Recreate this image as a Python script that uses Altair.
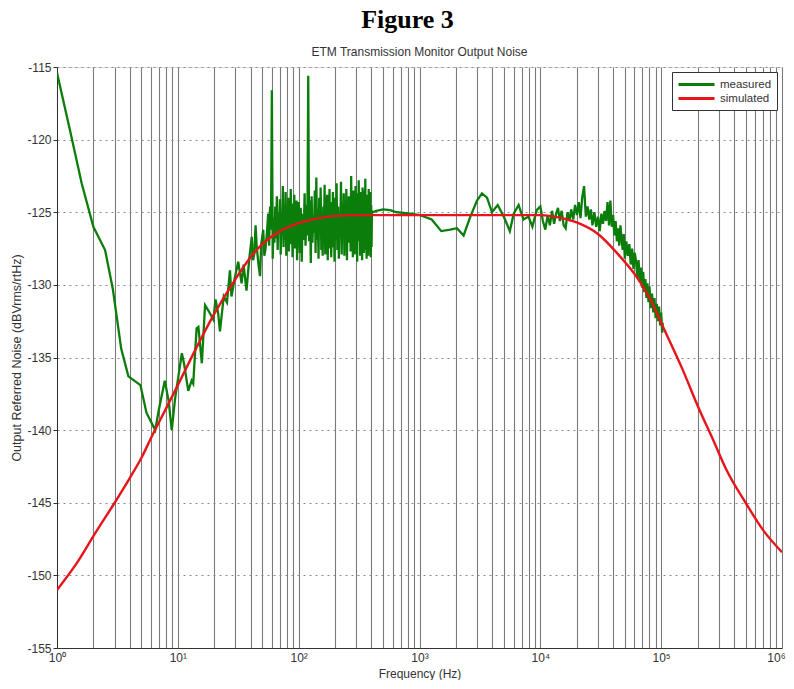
import altair as alt
import pandas as pd

# ---------------- data ----------------
meas_f = [1, 1.3, 1.6, 2.0, 2.5, 2.9, 3.4, 3.9, 4.9, 5.5, 6.5, 7.0, 7.8, 8.4, 8.9, 9.5,
          10.8, 11.3, 12.2, 13.0, 13.4, 14.3, 14.8, 15.8, 16.8, 18.0, 19.7, 20.5, 21.6, 22.3,
          24, 25.5, 27, 27.8, 29.5, 31.6, 33.7, 35, 37, 39, 40.9, 42, 43, 44, 45, 46.5, 47.9,
          49, 50.9, 52, 53, 54.5, 56, 57, 58, 59,
          60, 61, 62, 63, 64, 65, 66, 67, 68, 69, 70, 71, 72, 73, 74, 75, 76, 77, 78, 79,
          80, 81, 82, 83, 84, 85, 86, 87, 88, 89, 90, 91, 92, 93, 94, 95, 96, 97, 98, 99, 100,
          102, 104, 106, 108, 110, 112, 114, 116, 118, 120, 122, 124, 126, 128, 130, 132,
          134, 136, 138, 140, 142, 144, 146, 148, 150, 152, 154, 156, 158, 160, 162, 164,
          166, 168, 170, 172, 174, 176, 178, 180, 182, 184, 186, 188, 190, 192, 194, 196,
          198, 200, 203, 206, 209, 212, 215, 218, 221, 224, 227, 230, 233, 236, 239, 242,
          245, 248, 251, 254, 257, 260, 263, 266, 269, 272, 275, 278, 281, 284, 287, 290,
          293, 296, 299, 302, 305, 308, 311, 314, 317, 320, 323, 326, 329, 332, 335, 338,
          341, 344, 347, 350, 353, 356, 359, 362, 365, 368, 371, 374, 377, 380, 383, 386,
          389, 392, 395, 398, 401, 404, 407,
          440, 500, 570, 650, 740, 836, 1012, 1262, 1513, 1795, 2040, 2318, 2634, 2993,
          3290, 3620, 3980, 4440, 4980, 5590, 6020, 6610, 7260, 7980, 8600, 9320,
          10000, 10500, 11000, 11500, 12000, 12500, 13000, 13500, 14000, 14500, 15000, 15600,
          16200, 16800, 17400, 18000, 18700, 19400, 20100, 20800, 21500, 22200, 23000, 23800,
          24600, 25400, 26200, 27000, 28000, 29000, 30000, 31000, 32000, 33000, 34000, 35000,
          36000, 37000, 38000, 39000, 40000, 41000, 42000, 43000, 44000, 45000, 46000, 47000,
          48000, 49000, 50000, 51500, 53000, 54500, 56000, 57500, 59000, 60500, 62000, 63500,
          65000, 66500, 68000, 69500, 71000, 72500, 74000, 75500, 77000, 78500, 80000, 82000,
          84000, 86000, 88000, 90000, 92000, 94000, 96000, 98000, 100000, 102000, 103000]
meas_db = [-115.4, -119.6, -123.0, -126.0, -127.6, -130.3, -134.4, -136.3, -136.9, -138.8,
           -140.0, -138.5, -136.6, -138.0, -140.0, -137.8,
           -134.7, -135.5, -137.3, -136.6, -136.8, -133.0, -132.9, -135.4, -131.4, -131.8,
           -132.4, -131.0, -132.0, -133.2,
           -130.8, -131.2, -129.0, -130.8, -129.6, -128.4, -129.9, -128.6, -130.4, -128.2,
           -126.7, -128.3, -127.8, -125.9, -127.4, -128.6, -129.4,
           -127.2, -126.2, -128.0, -127.6, -126.5, -125.1, -127.3, -124.6, -126.2,
           -116.6, -128.2, -125.4, -127.1, -124.6, -126.8, -123.9, -127.6, -125.0, -126.2,
           -124.1, -127.9, -125.3, -126.5, -123.2, -127.4, -124.8, -126.9, -123.6, -128.0,
           -125.5, -126.3, -124.0, -127.7, -124.9, -126.6, -123.4, -127.2, -125.2, -128.1,
           -124.4, -126.0, -123.8, -127.5, -125.6, -126.8, -124.2, -128.3, -125.0, -126.4,
           -124.3,
           -127.8, -124.7, -128.4, -125.1, -126.9, -123.7, -127.3, -124.5, -126.6, -115.6,
           -127.0, -124.2, -128.5, -123.9, -127.1, -125.3,
           -126.4, -123.5, -127.8, -122.6, -126.9, -124.8, -128.2, -124.0, -126.5, -123.3,
           -127.6, -125.0, -128.0, -124.6, -126.2, -123.1,
           -127.9, -124.9, -126.8, -123.8, -128.3, -125.4, -126.1, -123.4, -127.5, -124.3,
           -128.1, -125.2, -126.7, -123.6, -127.4, -124.7,
           -128.4, -124.0, -126.9, -123.0, -127.6, -124.6, -128.2, -125.0, -126.4, -122.9,
           -127.9, -124.4, -126.8, -123.7, -128.0, -125.3,
           -126.5, -123.4, -128.3, -124.8, -127.1, -123.9, -126.3, -124.1, -127.7, -122.5,
           -126.9, -124.6, -128.1, -123.5, -127.3, -125.0,
           -127.9, -123.2, -126.6, -124.3, -128.4, -123.7, -127.0, -122.8, -126.2, -124.9,
           -128.0, -123.6, -127.5, -124.4, -128.3, -123.3,
           -126.7, -124.0, -127.8, -123.5, -126.4, -122.7, -127.6, -124.5, -128.2, -123.8,
           -127.0, -124.2, -128.0, -123.4, -126.9, -124.7,
           -127.7, -123.6, -128.1, -124.5, -127.4, -124.9, -125.0,
           -124.9, -124.8, -124.85, -125.0, -125.05, -125.1, -125.2, -125.5, -126.3, -126.2,
           -126.1, -126.6, -125.3, -124.2,
           -123.7, -124.0, -125.0, -124.5, -125.3, -126.3, -125.1, -124.5, -125.5, -125.3,
           -126.0, -124.85,
           -124.6, -125.6, -126.2, -125.2, -125.9, -124.9, -125.8, -125.1, -124.7, -125.6,
           -124.9, -125.9,
           -126.1, -125.0, -125.6, -124.8, -125.5, -124.5, -125.2, -124.3, -125.4, -124.0,
           -123.2, -125.3,
           -124.6, -125.5, -124.8, -125.9, -125.0, -126.0, -125.3, -126.3, -125.1, -125.8,
           -124.9, -125.6,
           -124.3, -125.9, -124.2, -126.0, -125.2, -126.6, -125.6, -127.0, -126.1, -127.3,
           -125.9, -126.8,
           -127.6, -126.5, -128.2, -127.0, -128.0, -127.2, -128.6, -127.5, -128.9, -127.8,
           -128.4, -129.5,
           -128.3, -129.8, -128.8, -130.2, -129.1, -130.5, -129.6, -130.9, -129.9, -131.2,
           -130.1, -131.6,
           -130.6, -131.9, -130.9, -132.3, -131.3, -132.5, -131.5, -132.8, -131.9, -133.3,
           -132.6]

sim_f = [1, 1.5, 2, 3, 4, 5, 6.2, 8, 10, 14.3, 20, 30, 40, 50, 70, 100, 150, 200, 300,
         500, 1000, 3000, 10000, 15000, 20000, 30000, 43000, 62000, 85000, 100000, 150000,
         200000, 270000, 350000, 500000, 700000, 1000000]
sim_db = [-151.0, -149.0, -147.3, -145.0, -143.3, -141.9, -140.3, -138.5, -136.9, -134.3,
          -132.0, -129.6, -128.1, -127.2, -126.3, -125.75, -125.4, -125.25, -125.2,
          -125.2, -125.2, -125.2, -125.2, -125.4, -125.7, -126.5, -127.8, -129.4, -131.3,
          -132.6, -135.8, -138.3, -140.7, -142.8, -145.0, -146.9, -148.4]

series_names = ["measured", "simulated"]
series_colors = ["#0b7d0b", "#e8141b"]

x_ticks = [m * 10 ** k for k in range(6) for m in range(1, 10)] + [1000000]
y_ticks = [-155, -150, -145, -140, -135, -130, -125, -120, -115]

meas_df = pd.DataFrame({"f": meas_f, "db": meas_db, "series": "measured"})
sim_df = pd.DataFrame({"f": sim_f, "db": sim_db, "series": "simulated"})

FONT = "Liberation Sans"

label_expr = ("datum.value==1?'10⁰':datum.value==10?'10¹':datum.value==100?'10²':"
              "datum.value==1000?'10³':datum.value==10000?'10⁴':datum.value==100000?'10⁵':"
              "datum.value==1000000?'10⁶':''")

x_enc = alt.X("f:Q", scale=alt.Scale(type="log", domain=[1, 1000000], nice=False),
              axis=alt.Axis(title="Frequency (Hz)", values=x_ticks, labelExpr=label_expr,
                            labelOverlap=False, labelFlush=False, ticks=False,
                            labelOffset={"condition": {"test": "datum.value >= 1000000",
                                                       "value": -6}, "value": 0},
                            grid=True, gridColor="#7a7a7a", gridWidth=1.1, gridOpacity=1,
                            domainColor="#333", labelFontSize=12, labelColor="#333",
                            labelPadding=4, titleFontSize=12, titleFontWeight="normal",
                            titleColor="#333", titlePadding=5))
y_enc = alt.Y("db:Q", scale=alt.Scale(domain=[-155, -115], nice=False),
              axis=alt.Axis(title="Output Referred Noise (dBVrms/rtHz)", values=y_ticks,
                            labelExpr="'' + datum.value",
                            ticks=True, tickSize=4, tickColor="#333",
                            grid=True, gridColor="#8a8a8a", gridDash=[2, 4], gridWidth=1,
                            gridOpacity=1, domainColor="#333", labelFontSize=12,
                            labelColor="#333", labelPadding=2, titleFontSize=12.5,
                            titleFontWeight="normal", titleColor="#333", titlePadding=3))
color_enc = alt.Color("series:N", scale=alt.Scale(domain=series_names, range=series_colors),
                      legend=alt.Legend(title=None, orient="top-right", offset=5,
                                        symbolType="M-3,0L3,0", symbolSize=144,
                                        symbolStrokeWidth=2.8, symbolOffset=12,
                                        labelOffset=16, labelFontSize=11.5,
                                        labelFont=FONT, labelColor="#333",
                                        strokeColor="#333", fillColor="white",
                                        padding=5, rowPadding=0, labelLimit=200))

meas_line = alt.Chart(meas_df).mark_line(strokeWidth=2.3, clip=True).encode(
    x=x_enc, y=y_enc, color=color_enc)
sim_line = alt.Chart(sim_df).mark_line(strokeWidth=2.4, clip=True, interpolate="monotone").encode(
    x=x_enc, y=y_enc, color=color_enc)

inner_title = alt.Chart(pd.DataFrame({"t": ["ETM Transmission Monitor Output Noise"]})).mark_text(
    fontSize=12, font=FONT, color="#333", baseline="middle", align="center"
).encode(x=alt.value(362.5), y=alt.value(-15), text="t:N")

chart = alt.layer(meas_line, sim_line, inner_title).properties(
    width=725, height=581,
    title=alt.TitleParams("Figure 3", font="Liberation Serif", fontSize=26, fontWeight="bold",
                          color="black", anchor="middle", dx=-12, offset=13),
    padding={"left": 49, "top": 59, "right": 4, "bottom": 32},
    autosize=alt.AutoSizeParams(type="none"),
).configure_view(stroke="#333", strokeWidth=1).configure(font=FONT)

chart.save("out.html", embed_options={"renderer": "svg", "actions": False})
